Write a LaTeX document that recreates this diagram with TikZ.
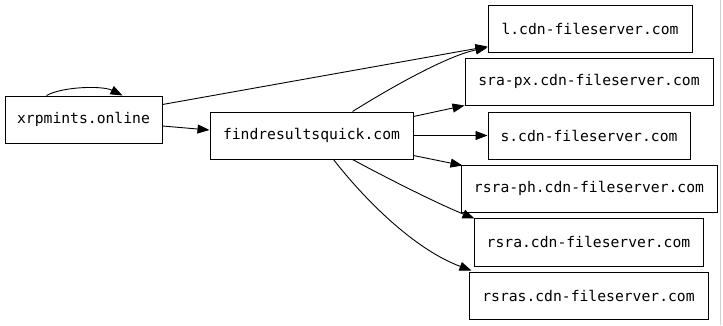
\documentclass[tikz,border=0pt]{standalone}
\usepackage{fontspec}
\setmonofont{DejaVu Sans Mono}
\usetikzlibrary{arrows.meta,calc}
\begin{document}
\begin{tikzpicture}[x=1pt,y=-1pt,
  box/.style={draw=black,line width=1pt,rectangle,inner sep=0pt,font=\ttfamily\fontsize{14.7}{16}\selectfont},
  edge/.style={draw=black,line width=0.9pt,-{Triangle[length=12pt,width=9pt]}}]
\useasboundingbox (0,0) rectangle (723,325);
\fill[white] (0,0) rectangle (723,325);
\draw[gray!35,line width=1pt] (720.5,0) -- (720.5,325);
\node[box,minimum width=157pt,minimum height=47pt] (xrp) at (83.5,119.5) {xrpmints.online};
\node[box,minimum width=203pt,minimum height=47pt] (find) at (311.5,135.5) {findresultsquick.com};
\node[box,minimum width=204pt,minimum height=47pt] (l) at (590,28.5) {l.cdn-fileserver.com};
\node[box,minimum width=248pt,minimum height=47pt] (srapx) at (589,81.5) {sra-px.cdn-fileserver.com};
\node[box,minimum width=202pt,minimum height=47pt] (s) at (589,135.5) {s.cdn-fileserver.com};
\node[box,minimum width=256pt,minimum height=47pt] (rsraph) at (589,188.5) {rsra-ph.cdn-fileserver.com};
\node[box,minimum width=229pt,minimum height=48pt] (rsra) at (588.5,242) {rsra.cdn-fileserver.com};
\node[box,minimum width=239pt,minimum height=47pt] (rsras) at (588.5,295.5) {rsras.cdn-fileserver.com};
% self loop
\draw[edge] ($(xrp.north west)+(42,0)$) .. controls ($(xrp.north west)+(58,-9)$) and ($(xrp.north west)+(98,-10)$) .. ($(xrp.north west)+(118,0)$);
\draw[edge] ($(xrp.north east)+(0,9)$) -- ($(l.south west)+(0,-6)$);
\draw[edge] ($(xrp.east)+(0,6.5)$) -- ($(find.west)+(0,-5.5)$);
\draw[edge] ($(find.north west)+(143,0)$) .. controls ($(find.north west)+(175,-20)$) and ($(find.north west)+(235,-55)$) .. ($(l.south west)+(0,-5)$);
\draw[edge] ($(find.north east)+(0,5)$) -- (srapx.south west);
\draw[edge] (find.east) -- (s.west);
\draw[edge] ($(find.south east)+(0,-4)$) -- ($(rsraph.north west)+(2,1)$);
\draw[edge] ($(find.south west)+(143,0)$) .. controls ($(find.south west)+(180,20)$) and ($(find.south west)+(230,45)$) .. ($(rsra.north west)+(1,1)$);
\draw[edge] ($(find.south west)+(124,0)$) .. controls ($(find.south west)+(155,40)$) and ($(find.south west)+(205,90)$) .. ($(rsras.north west)+(3,-1)$);
\end{tikzpicture}
\end{document}
